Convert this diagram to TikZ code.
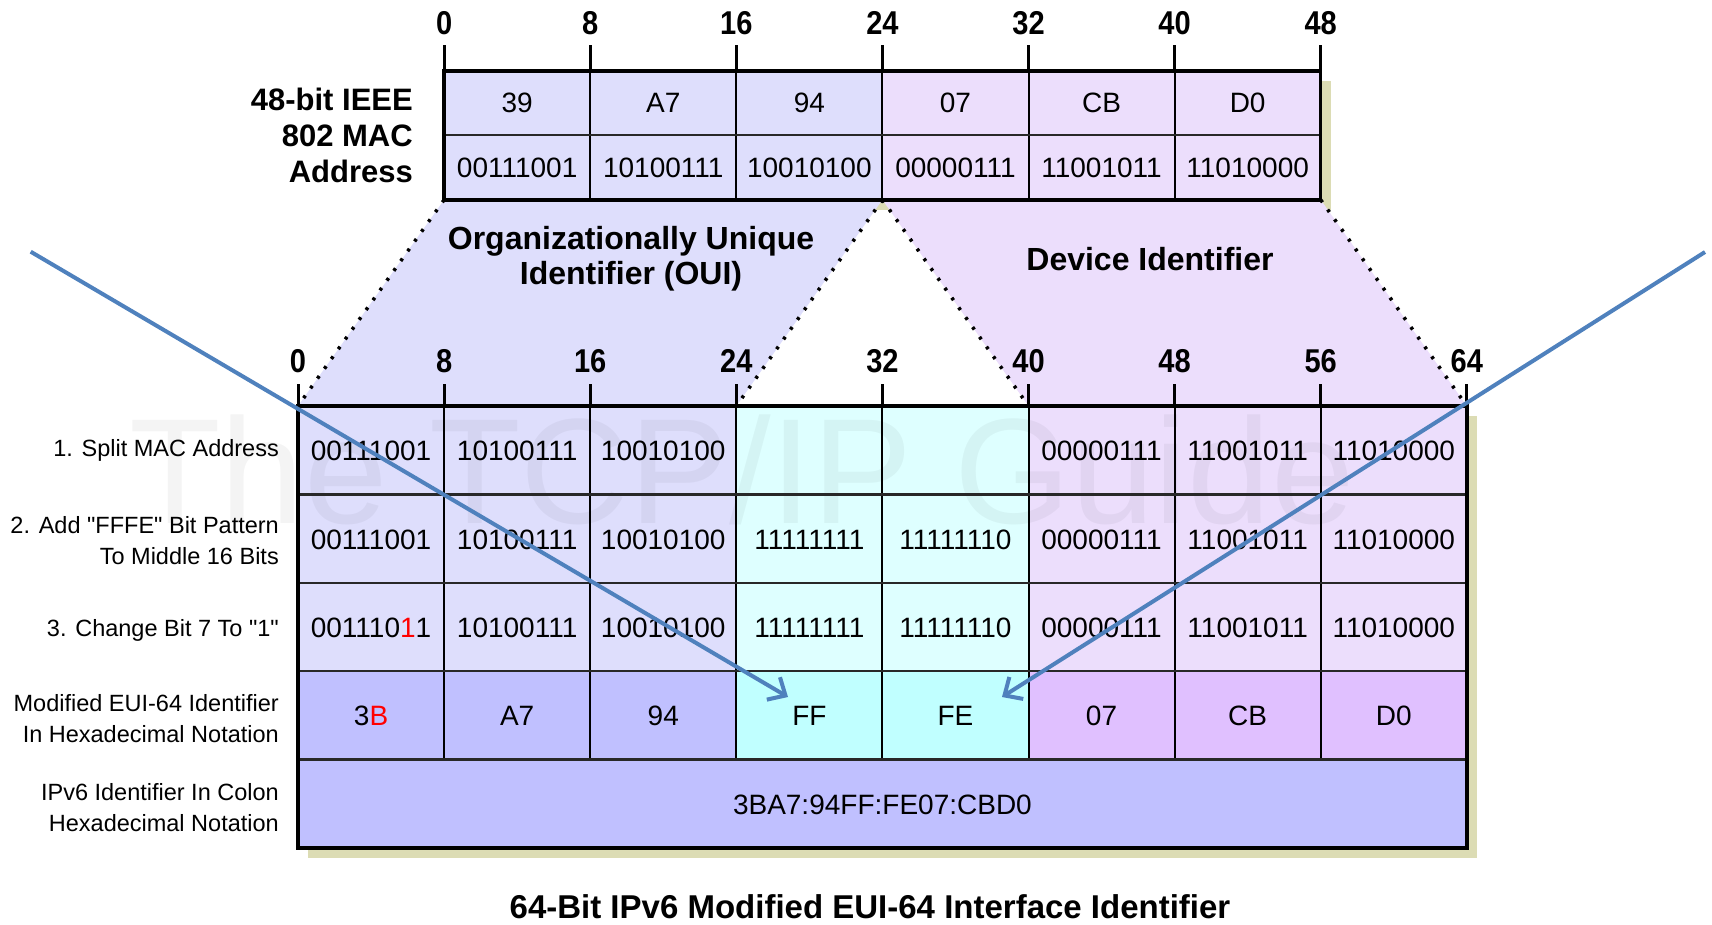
\documentclass[tikz,border=0pt]{standalone}
\usepackage{fontspec}
\usepackage{graphicx}
\setmainfont{Liberation Sans}
\usetikzlibrary{arrows.meta}
\definecolor{ouiA}{RGB}{222,222,252}
\definecolor{devA}{RGB}{236,222,252}
\definecolor{midA}{RGB}{222,255,255}
\definecolor{ouiB}{RGB}{192,192,255}
\definecolor{devB}{RGB}{224,192,255}
\definecolor{midB}{RGB}{192,255,255}
\definecolor{shadowc}{RGB}{220,220,180}
\definecolor{arrowblue}{RGB}{79,129,189}
\definecolor{rowline}{RGB}{40,40,40}
\newcommand{\nx}[1]{\scalebox{0.88}[1]{#1}}
\tikzset{
  cellt/.style={inner sep=0pt, font=\fontsize{28}{34}\selectfont},
  rowlab/.style={inner sep=0pt, anchor=east, align=right, font=\fontsize{23.5}{31}\selectfont},
  ticklab/.style={inner sep=0pt, font=\fontsize{33}{36}\selectfont\bfseries},
  headlab/.style={inner sep=0pt, align=center, font=\fontsize{32}{35}\selectfont\bfseries},
  outerline/.style={line width=3.5pt},
  innerline/.style={line width=2pt},
  hline/.style={line width=2.5pt, draw=rowline},
  tickline/.style={line width=3pt},
  dotline/.style={line width=3.5pt, dash pattern=on 3pt off 9pt},
  arr/.style={draw=arrowblue, line width=4pt, -{Straight Barb[length=14pt,width=26pt,line width=4pt]}}
}
\begin{document}
\begin{tikzpicture}[x=1pt,y=-1pt]
\useasboundingbox (0,0) rectangle (1712,924);
% column boundaries X_i = 298 + i*146.1
% shadows
\fill[shadowc] (454.1,81) rectangle (1330.7,209.8);
\fill[shadowc] (308,416) rectangle (1476.8,858);
% expansion regions
\fill[ouiA] (444.1,199.8) -- (882.4,199.8) -- (736.3,406) -- (298,406) -- cycle;
\fill[devA] (882.4,199.8) -- (1320.7,199.8) -- (1466.8,406) -- (1028.5,406) -- cycle;
\draw[dotline] (444.1,199.8) -- (298,406);
\draw[dotline] (882.4,199.8) -- (736.3,406);
\draw[dotline] (882.4,199.8) -- (1028.5,406);
\draw[dotline] (1320.7,199.8) -- (1466.8,406);
% top table fills
\fill[ouiA] (444.1,71) rectangle (882.4,199.8);
\fill[devA] (882.4,71) rectangle (1320.7,199.8);
% bottom table fills
\fill[ouiA] (298,406) rectangle (736.3,671.2);
\fill[midA] (736.3,406) rectangle (1028.5,671.2);
\fill[devA] (1028.5,406) rectangle (1466.8,671.2);
\fill[ouiB] (298,671.2) rectangle (736.3,759.6);
\fill[midB] (736.3,671.2) rectangle (1028.5,759.6);
\fill[devB] (1028.5,671.2) rectangle (1466.8,759.6);
\fill[ouiB] (298,759.6) rectangle (1466.8,848);
% watermark
\node[anchor=base west, inner sep=0pt, font=\fontsize{150}{150}\selectfont, text=black, opacity=0.045] (wm) at (129,523) {The TCP/IP Guide};
% top table lines
\foreach \i in {2,...,6} {
  \pgfmathsetmacro{\xx}{298+\i*146.1}
  \draw[innerline] (\xx,71) -- (\xx,199.8);
}
\draw[hline, line width=2pt] (444.1,135.4) -- (1320.7,135.4);
\draw[outerline] (444.1,71) rectangle (1320.7,199.8);
% top ticks and labels
\foreach \i/\t in {1/0,2/8,3/16,4/24,5/32,6/40,7/48} {
  \pgfmathsetmacro{\xx}{298+\i*146.1}
  \draw[tickline] (\xx,45) -- (\xx,71);
  \node[ticklab] (tt\i) at (\xx,23) {\nx{\t}};
}
% bottom table lines
\foreach \i in {1,...,7} {
  \pgfmathsetmacro{\xx}{298+\i*146.1}
  \draw[innerline] (\xx,406) -- (\xx,759.6);
}
\foreach \yy in {494.4,582.8,671.2,759.6} {
  \draw[hline] (298,\yy) -- (1466.8,\yy);
}
\draw[outerline] (298,406) rectangle (1466.8,848);
\draw[line width=4.5pt] (298,406) -- (1466.8,406);
% bottom ticks and labels
\foreach \i/\t in {0/0,1/8,2/16,3/24,4/32,5/40,6/48,7/56,8/64} {
  \pgfmathsetmacro{\xx}{298+\i*146.1}
  \draw[tickline] (\xx,384) -- (\xx,406);
  \node[ticklab] (bt\i) at (\xx,361) {\nx{\t}};
}
% top table texts
\foreach \i/\h/\b in {1/39/00111001,2/A7/10100111,3/94/10010100,4/07/00000111,5/CB/11001011,6/D0/11010000} {
  \pgfmathsetmacro{\xx}{298+\i*146.1+73.05}
  \node[cellt] (th\i) at (\xx,103.2) {\h};
  \node[cellt] (tb\i) at (\xx,167.6) {\b};
}
% row 1
\foreach \i/\b in {0/00111001,1/10100111,2/10010100,5/00000111,6/11001011,7/11010000} {
  \pgfmathsetmacro{\xx}{298+\i*146.1+73.05}
  \node[cellt] (ra\i) at (\xx,451) {\b};
}
% row 2
\foreach \i/\b in {0/00111001,1/10100111,2/10010100,3/11111111,4/11111110,5/00000111,6/11001011,7/11010000} {
  \pgfmathsetmacro{\xx}{298+\i*146.1+73.05}
  \node[cellt] (rb\i) at (\xx,539.4) {\b};
}
% row 3
\node[cellt] (rc0) at (371.05,627.8) {001110{\color{red}1}1};
\foreach \i/\b in {1/10100111,2/10010100,3/11111111,4/11111110,5/00000111,6/11001011,7/11010000} {
  \pgfmathsetmacro{\xx}{298+\i*146.1+73.05}
  \node[cellt] (rc\i) at (\xx,627.8) {\b};
}
% row 4
\node[cellt] (rd0) at (371.05,716) {3{\color{red}B}};
\foreach \i/\b in {1/A7,2/94,3/FF,4/FE,5/07,6/CB,7/D0} {
  \pgfmathsetmacro{\xx}{298+\i*146.1+73.05}
  \node[cellt] (rd\i) at (\xx,716) {\b};
}
% row 5
\node[cellt] (re) at (882.4,804.5) {3BA7:94FF:FE07:CBD0};
% row labels
\node[rowlab] (l1) at (279,450) {1. Split MAC Address};
\node[rowlab] (l2) at (279,541) {2. Add \textquotedbl FFFE\textquotedbl\ Bit Pattern\\To Middle 16 Bits};
\node[rowlab] (l3) at (279,630) {3. Change Bit 7 To \textquotedbl 1\textquotedbl};
\node[rowlab] (l4) at (279,719) {Modified EUI-64 Identifier\\In Hexadecimal Notation};
\node[rowlab] (l5) at (279,808) {IPv6 Identifier In Colon\\Hexadecimal Notation};
% header labels
\node[headlab, align=right, anchor=east, font=\fontsize{31}{36}\selectfont\bfseries] (mac) at (413,135.4) {48-bit IEEE\\802 MAC\\Address};
\node[headlab] (oui) at (631,258.5) {Organizationally Unique\\Identifier (OUI)};
\node[headlab] (dev) at (1150,259) {Device Identifier};
\node[headlab, font=\fontsize{33}{36}\selectfont\bfseries] (title) at (870,907) {64-Bit IPv6 Modified EUI-64 Interface Identifier};
% arrows
\coordinate (las) at (30.7,251.7);
\coordinate (lat) at (788,697);
\coordinate (ras) at (1705,252);
\coordinate (rat) at (1002,697);
\draw[arr] (las) -- (lat);
\draw[arr] (ras) -- (rat);
\end{tikzpicture}
\end{document}
